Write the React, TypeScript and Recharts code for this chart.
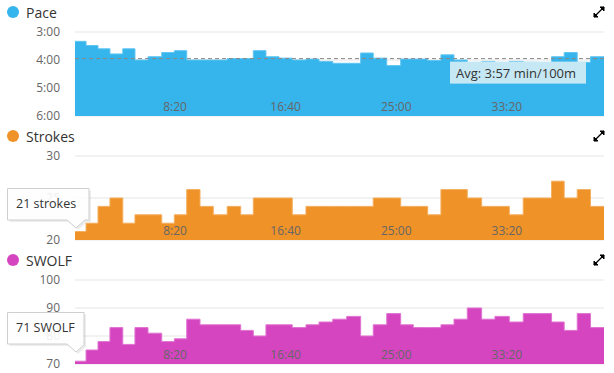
import React from "react";
import {
  AreaChart,
  Area,
  XAxis,
  YAxis,
  CartesianGrid,
  ReferenceLine,
  Tooltip,
} from "recharts";

// start time (s) of each 25m length, plus the end of the last one
const lengthStarts = [
  48, 98, 152, 206, 264, 319, 378, 440, 497, 553, 613, 673, 736, 797, 854, 911,
  970, 1030, 1092, 1151, 1213, 1276, 1339, 1396, 1457, 1520, 1577, 1642, 1702,
  1761, 1821, 1886, 1946, 2011, 2074, 2137, 2202, 2259, 2318, 2378, 2439,
];

// pace, seconds per 100m
const paceSec = [
  200, 209, 216, 227, 216, 240, 233, 224, 220, 240, 240, 240, 237, 237, 220,
  233, 236, 240, 238, 243, 247, 247, 225, 236, 252, 238, 238, 241, 229, 240,
  252, 243, 250, 243, 245, 250, 233, 224, 245, 233,
];

const strokes = [
  21, 22, 24, 25, 22, 23, 23, 22, 23, 26, 24, 23, 24, 23, 25, 25, 25, 23, 24,
  24, 24, 24, 24, 25, 25, 24, 24, 23, 26, 26, 25, 24, 24, 23, 25, 25, 27, 25,
  26, 24,
];

const swolf = [
  71, 75, 78, 83, 77, 83, 81, 78, 79, 86, 84, 84, 84, 82, 80, 84, 84, 83, 84,
  85, 86, 87, 80, 84, 88, 84, 83, 83, 84, 86, 90, 86, 87, 85, 88, 88, 85, 82,
  88, 83,
];

const avgPace = 237;
const timeTicks = [500, 1000, 1500, 2000];
const paceTicks = [180, 240, 300, 360];
const strokeTicks = [20, 25, 30];
const swolfTicks = [70, 80, 90, 100];

const FONT = "'Open Sans', sans-serif";

const mmss = (s: number) =>
  `${Math.floor(s / 60)}:${String(Math.round(s % 60)).padStart(2, "0")}`;

function rows(values: number[]) {
  return lengthStarts.map((t, i) => ({
    t,
    v: values[Math.min(i, values.length - 1)],
  }));
}

function TimeLabel(props: any) {
  const vb = props.viewBox;
  return (
    <text
      x={vb.x}
      y={vb.y + vb.height - 5}
      textAnchor="middle"
      fontSize={12}
      fill="#666"
      fontFamily={FONT}
    >
      {props.text}
    </text>
  );
}

function ExpandIcon() {
  return (
    <svg width={14} height={14} style={{ position: "absolute", left: 592, top: 5 }}>
      <path d="M2 12 L12 2" stroke="#000" strokeWidth={1.2} />
      <path d="M2 12 L2 8 L6 12 Z" fill="#000" stroke="#000" strokeWidth={1} />
      <path d="M12 2 L12 6 L8 2 Z" fill="#000" stroke="#000" strokeWidth={1} />
    </svg>
  );
}

// static hover box on the first length, like the reference
function CalloutBox({ payload, unit, w }: any) {
  if (!payload || !payload.length) return null;
  const text = `${payload[0].value} ${unit}`;
  const px = 69; // pointer x inside the box svg
  const d = `M0.5 0.5 H${w} V32 H${px + 9} L${px} 40 L${px - 9} 32 H0.5 Z`;
  return (
    <svg width={w + 4} height={44} style={{ display: "block", overflow: "visible" }}>
      <path d={d} transform="translate(2,2)" fill="rgba(0,0,0,0.07)" />
      <path d={d} fill="rgba(255,255,255,0.9)" stroke="#cfcfcf" />
      <text x={9} y={20} fontSize={12.5} fill="#333" fontFamily={FONT}>
        {text}
      </text>
    </svg>
  );
}

function AvgLabel(props: any) {
  const vb = props.viewBox;
  const w = 136;
  const x = vb.x + vb.width - 18 - w;
  const y = vb.y + 3;
  return (
    <g>
      <rect x={x} y={y} width={w} height={22} fill="#c6e8f4" />
      <text x={x + 6} y={y + 16} fontSize={13} fill="#333" fontFamily={FONT}>
        {`Avg: ${mmss(avgPace)} min/100m`}
      </text>
    </g>
  );
}

function Panel({
  top,
  title,
  color,
  edge,
  values,
  domain,
  ticks,
  reversed,
  yFormat,
  base,
  callout,
  children,
}: any) {
  return (
    <div style={{ position: "absolute", left: 0, top, width: 614, height: 124 }}>
      <div
        style={{
          position: "absolute",
          left: 7,
          top: 2,
          height: 20,
          display: "flex",
          alignItems: "center",
          fontSize: 14,
          color: "#333",
          fontFamily: FONT,
        }}
      >
        <span
          style={{
            width: 12,
            height: 12,
            borderRadius: "50%",
            background: color,
            marginRight: 7,
          }}
        />
        {title}
      </div>
      <ExpandIcon />
      <div style={{ position: "absolute", left: 0, top: 0 }}>
        <AreaChart
          width={614}
          height={124}
          data={rows(values)}
          margin={{ top: 32, right: 10, bottom: 8, left: 0 }}
        >
          <YAxis
            type="number"
            domain={domain}
            ticks={ticks}
            interval={0}
            reversed={reversed}
            width={75}
            tickSize={0}
            tickMargin={15}
            axisLine={false}
            tickLine={false}
            allowDataOverflow
            tickFormatter={yFormat}
            tick={{ fontSize: 12, fill: "#666", fontFamily: FONT }}
          />
          <XAxis
            dataKey="t"
            type="number"
            domain={[lengthStarts[0], lengthStarts[lengthStarts.length - 1]]}
            ticks={timeTicks}
            height={0}
            tick={false}
            tickLine={false}
            axisLine={{ stroke: "#ccd6eb" }}
          />
          <Area
            type="stepAfter"
            dataKey="v"
            stroke={edge}
            strokeWidth={1}
            fill={color}
            fillOpacity={1}
            baseValue={base}
            dot={false}
            activeDot={false}
            isAnimationActive={false}
          />
          <CartesianGrid vertical={false} stroke="rgba(0,0,0,0.1)" />
          {timeTicks.map((t) => (
            <ReferenceLine
              key={t}
              x={t}
              strokeOpacity={0}
              label={<TimeLabel text={mmss(t)} />}
            />
          ))}
          {children}
          {callout && (
            <Tooltip
              defaultIndex={0}
              active
              cursor={false}
              isAnimationActive={false}
              position={{ x: 7, y: 64 }}
              wrapperStyle={{ outline: "none" }}
              content={<CalloutBox unit={callout.unit} w={callout.w} />}
            />
          )}
        </AreaChart>
      </div>
    </div>
  );
}

export default function App() {
  return (
    <div
      style={{
        position: "absolute",
        left: 0,
        top: 0,
        width: 614,
        height: 373,
        background: "#fff",
        overflow: "hidden",
      }}
    >
      <Panel
        top={0}
        title="Pace"
        color="#36b4ec"
        edge="#5fc6f2"
        values={paceSec}
        domain={[180, 360]}
        ticks={paceTicks}
        reversed
        yFormat={mmss}
        base={360}
      >
        <ReferenceLine
          y={avgPace}
          stroke="#888"
          strokeDasharray="4 3"
          label={<AvgLabel />}
        />
      </Panel>
      <Panel
        top={124}
        title="Strokes"
        color="#ef9228"
        edge="#f4ad5c"
        values={strokes}
        domain={[20, 30]}
        ticks={strokeTicks}
        base={20}
        callout={{ unit: "strokes", w: 82 }}
      />
      <Panel
        top={248}
        title="SWOLF"
        color="#d545c0"
        edge="#e173d2"
        values={swolf}
        domain={[70, 100]}
        ticks={swolfTicks}
        base={70}
        callout={{ unit: "SWOLF", w: 77 }}
      />
    </div>
  );
}
